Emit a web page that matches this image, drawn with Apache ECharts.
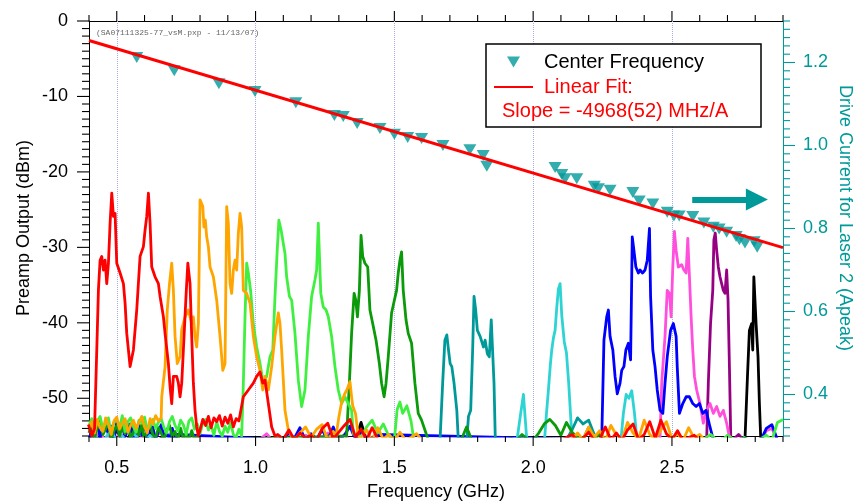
<!DOCTYPE html>
<html><head><meta charset="utf-8">
<script src="https://cdn.jsdelivr.net/npm/echarts@6/dist/echarts.min.js"></script>
<style>html,body{margin:0;padding:0;background:#fff}#c{width:860px;height:504px}</style>
</head><body><div id="c"></div>
<script>
// ---------- axis ticks ----------
const xMajorTicks = [0.5, 1.0, 1.5, 2.0, 2.5];
const xMinorTicks = [0.4,0.6,0.7,0.8,0.9,1.1,1.2,1.3,1.4,1.6,1.7,1.8,1.9,2.1,2.2,2.3,2.4,2.6,2.7,2.8,2.9];
const yLeftMajorTicks = [0, -10, -20, -30, -40, -50];
const yLeftMinorTicks = [-1,-2,-3,-4,-5,-6,-7,-8,-9,-11,-12,-13,-14,-15,-16,-17,-18,-19,-21,-22,-23,-24,-25,-26,-27,-28,-29,-31,-32,-33,-34,-35,-36,-37,-38,-39,-41,-42,-43,-44,-45,-46,-47,-48,-49,-51,-52,-53,-54,-55];
const yRightMajorTicks = [0.4, 0.6, 0.8, 1.0, 1.2];
const yRightMinorTicks = [0.3,0.32,0.34,0.36,0.38,0.42,0.44,0.46,0.48,0.5,0.52,0.54,0.56,0.58,0.62,0.64,0.66,0.68,0.7,0.72,0.74,0.76,0.78,0.82,0.84,0.86,0.88,0.9,0.92,0.94,0.96,0.98,1.02,1.04,1.06,1.08,1.1,1.12,1.14,1.16,1.18,1.22,1.24,1.26,1.28,1.3];

// ---------- center frequency vs drive current (right axis) ----------
const centerFreqGHz = [0.572,0.707,0.868,0.998,1.145,1.284,1.316,1.366,1.448,1.500,1.548,1.598,1.675,1.772,1.820,1.833,2.079,2.103,2.115,2.157,2.220,2.235,2.277,2.359,2.382,2.431,2.483,2.507,2.526,2.575,2.615,2.649,2.670,2.697,2.731,2.743,2.763,2.796,2.807];
const driveCurrentA = [1.212,1.180,1.149,1.130,1.103,1.072,1.070,1.053,1.041,1.027,1.019,1.017,1.000,0.990,0.976,0.950,0.947,0.930,0.920,0.920,0.902,0.896,0.892,0.887,0.866,0.859,0.839,0.830,0.830,0.829,0.813,0.803,0.799,0.791,0.781,0.773,0.765,0.768,0.755];
const fitFreqGHz = [0.4, 2.9];
const fitCurrentA = [1.253, 0.754];
const arrowFreqGHz = [2.573, 2.806];
const arrowCurrentA = 0.870;

// ---------- spectra: peak regions [GHz, dBm] ----------
const redPeaks = [[0.398,-53.5],[0.41,-55],[0.42,-54],[0.428,-43.6],[0.434,-35.6],[0.440,-31.7],[0.446,-31.2],[0.452,-33.0],[0.458,-31.7],[0.464,-34.8],[0.470,-32.1],[0.476,-26.8],[0.482,-22.8],[0.488,-25.9],[0.494,-25.5],[0.500,-32.1],[0.512,-33.4],[0.524,-34.8],[0.530,-37.4],[0.536,-41.4],[0.548,-45.8],[0.560,-43.6],[0.572,-38.3],[0.584,-31.2],[0.596,-29.9],[0.602,-27.7],[0.608,-25.9],[0.614,-22.8],[0.620,-26.8],[0.626,-32.6],[0.638,-33.9],[0.650,-34.8],[0.656,-36.5],[0.668,-39.2],[0.674,-41.4],[0.686,-45.4],[0.692,-48.5],[0.698,-50.7],[0.704,-47.1],[0.716,-47.1],[0.722,-48.0],[0.728,-49.8],[0.734,-48.0],[0.740,-43.6],[0.750,-36.1],[0.756,-32.1],[0.764,-34.8],[0.770,-41.8],[0.776,-48.0],[0.782,-51.6],[0.788,-53.8],[0.794,-55],
  [0.956,-49.8],[0.974,-48.9],[0.992,-48.0],[1.004,-47.1],[1.016,-46.5],[1.026,-48.0],[1.034,-47.6],[1.046,-50.7],[1.058,-53.8],[1.070,-55]];
const orangePeaks = [[0.662,-49.8],[0.674,-45.8],[0.682,-38.3],[0.690,-34.8],[0.698,-32.1],[0.704,-35.7],[0.710,-41.8],[0.718,-45.4],[0.728,-44.5],[0.734,-40.9],[0.746,-39.2],[0.758,-38.3],[0.770,-40.1],[0.776,-39.2],[0.782,-41.8],[0.788,-43.2],[0.794,-40.1],[0.800,-23.7],[0.810,-24.6],[0.814,-27.3],[0.819,-26.4],[0.824,-28.6],[0.830,-29.9],[0.836,-32.6],[0.848,-33.9],[0.860,-37.0],[0.872,-41.8],[0.882,-46.3],[0.890,-45.4],[0.896,-24.6],[0.902,-26.8],[0.908,-34.8],[0.914,-36.1],[0.920,-33.0],[0.926,-31.7],[0.932,-33.0],[0.938,-28.1],[0.944,-25.5],[0.950,-27.3],[0.956,-35.7],[0.968,-36.1],[0.980,-37.4],[0.992,-41.8],[1.004,-44.5],[1.016,-46.3],[1.026,-48.9],[1.034,-47.1],[1.046,-48.9],[1.058,-45.8],[1.070,-41.8],[1.082,-38.7],[1.088,-40.1],[1.094,-43.6],[1.106,-51.6],[1.118,-54.2],[1.130,-55],
  [1.29,-55],[1.30,-52.5],[1.31,-50.5],[1.32,-49.5],[1.33,-48.8],[1.34,-47.8],[1.345,-49.5],[1.35,-51.0],[1.36,-52],[1.37,-55]];
const limePeaks = [[0.950,-55],[0.956,-48.0],[0.962,-39.2],[0.968,-32.1],[0.974,-33.4],[0.982,-35.7],[0.992,-40.1],[1.004,-43.2],[1.016,-45.4],[1.028,-48.0],[1.040,-47.1],[1.052,-44.5],[1.062,-43.6],[1.070,-36.5],[1.078,-30.4],[1.084,-26.4],[1.092,-27.7],[1.100,-29.5],[1.106,-30.8],[1.112,-33.9],[1.122,-36.5],[1.130,-37.0],[1.142,-41.4],[1.154,-47.6],[1.166,-51.1],[1.178,-48.9],[1.190,-41.8],[1.202,-36.5],[1.214,-34.3],[1.220,-33.0],[1.226,-26.8],[1.235,-36.1],[1.244,-37.9],[1.254,-38.3],[1.262,-39.2],[1.274,-41.8],[1.286,-45.8],[1.298,-48.9],[1.310,-50.7],[1.322,-49.8],[1.334,-50.7],[1.346,-51.6],[1.352,-54.7],[1.364,-55],
  [1.50,-55.5],[1.51,-51.5],[1.52,-50.5],[1.53,-52],[1.545,-51],[1.56,-53],[1.57,-55.5]];
const darkGreenPeaks = [[1.328,-55],[1.338,-48.0],[1.346,-41.4],[1.355,-36.1],[1.361,-37.0],[1.367,-39.2],[1.374,-35.7],[1.380,-28.4],[1.386,-31.2],[1.394,-32.1],[1.404,-32.6],[1.412,-38.3],[1.422,-40.1],[1.434,-42.3],[1.446,-45.4],[1.454,-48.0],[1.463,-49.8],[1.470,-48.0],[1.478,-44.5],[1.490,-38.7],[1.500,-37.0],[1.508,-35.7],[1.514,-33.4],[1.520,-31.7],[1.526,-30.6],[1.532,-35.7],[1.542,-39.6],[1.550,-41.4],[1.562,-42.7],[1.574,-48.0],[1.586,-52.0],[1.598,-52.9],[1.610,-54.2],[1.622,-55.5]];
const tealPeaks = [[1.664,-56],[1.674,-48.0],[1.682,-42.3],[1.689,-41.6],[1.695,-43.6],[1.701,-45.4],[1.707,-45.8],[1.715,-48.0],[1.725,-51.6],[1.731,-56],[1.760,-56],[1.767,-52.4],[1.775,-51.6],[1.782,-43.6],[1.787,-36.5],[1.793,-38.3],[1.799,-41.0],[1.809,-41.8],[1.815,-41.8],[1.821,-43.2],[1.827,-42.3],[1.835,-44.1],[1.842,-44.5],[1.849,-39.6],[1.854,-39.6],[1.859,-48.0],[1.864,-56]];
const cyanPeaks = [[1.94,-56],[1.955,-52],[1.965,-49.5],[1.972,-53],[1.978,-56],
  [2.04,-56],[2.048,-52],[2.055,-48.9],[2.062,-45.5],[2.067,-43.6],[2.073,-42],[2.079,-41.0],[2.085,-38],[2.091,-35.5],[2.097,-34.8],[2.103,-39],[2.112,-42.5],[2.12,-44],[2.128,-48],[2.136,-53],[2.142,-56],
  [2.315,-56],[2.325,-52],[2.335,-49.5],[2.345,-50],[2.355,-49],[2.365,-52],[2.375,-56]];
const bluePeaks = [[2.247,-55.5],[2.255,-42.3],[2.265,-39.2],[2.271,-38.3],[2.277,-41.8],[2.287,-43.6],[2.295,-47.1],[2.303,-49.4],[2.313,-48.0],[2.319,-46.3],[2.327,-45.8],[2.334,-43.6],[2.343,-42.7],[2.351,-44.9],[2.357,-28.6],[2.363,-30.4],[2.370,-32.6],[2.379,-33.4],[2.385,-33.0],[2.394,-33.4],[2.403,-33.0],[2.411,-31.7],[2.419,-27.5],[2.423,-36.5],[2.431,-43.6],[2.439,-45.8],[2.447,-48.9],[2.457,-51.6],[2.467,-52.0],[2.475,-48.0],[2.483,-44.5],[2.495,-41.0],[2.505,-40.1],[2.515,-41.8],[2.519,-45.8],[2.527,-52.0],[2.539,-50.7],[2.551,-49.8],[2.563,-49.8],[2.575,-50.7],[2.587,-51.1],[2.599,-50.7],[2.611,-52.0],[2.623,-51.6],[2.637,-53.8],[2.649,-55.5]];
const magentaPeaks = [[2.457,-55.5],[2.463,-48.0],[2.475,-41.8],[2.483,-35.7],[2.491,-36.1],[2.497,-39.2],[2.503,-32.6],[2.509,-27.9],[2.515,-30.4],[2.523,-32.6],[2.535,-32.3],[2.543,-33.0],[2.551,-33.4],[2.557,-28.8],[2.563,-33.9],[2.569,-39.2],[2.575,-43.6],[2.581,-47.1],[2.589,-48.9],[2.601,-50.7],[2.613,-53.3],[2.625,-51.6],[2.637,-50.7],[2.649,-52.0],[2.661,-51.1],[2.673,-52.4],[2.685,-51.6],[2.697,-53.3],[2.709,-55.5]];
const purplePeaks = [[2.625,-55.5],[2.631,-48.0],[2.639,-40.1],[2.647,-35.7],[2.651,-29.0],[2.656,-28.1],[2.661,-30.4],[2.667,-32.6],[2.673,-33.9],[2.679,-34.8],[2.685,-35.7],[2.691,-36.1],[2.697,-33.0],[2.702,-37.0],[2.707,-45.8],[2.712,-55.5]];
const blackPeaks = [[2.763,-55.5],[2.772,-47.1],[2.779,-41.0],[2.787,-40.1],[2.791,-43.6],[2.795,-33.9],[2.803,-40.1],[2.810,-44.5],[2.815,-50.7],[2.820,-55.5]];

// ---------- noise floor: [start GHz, spacing GHz, values dBm] ----------
const redNoise = [[0.80, 0.01, [-54.2,-52.8,-53.6,-52.4,-53.9,-52.6,-53.1,-52.3,-53.7,-52.5,-53.3,-52.2,-53.8,-52.7,-53.0]],
  [1.08, 0.02, [-54.8,-55.4,-54.2,-55.5,-54.6,-55.3,-54.9,-55.6,-54.0,-53.3,-55.4,-54.5,-53.6,-52.8,-55.2,-54.1,-55.5,-53.9,-55.4]],
  [2.10, 0.02, [-55.6,-55.2,-54.8,-55.6,-55.3,-54.5,-55.6,-55.4,-53.8,-55.5,-54.6,-55.6,-54.2,-53.4,-55.5,-54.8,-53.1,-55.3,-52.9,-54.7,-55.5,-54.3,-55.6,-55.2,-54.9,-55.6,-55.5]]];
const orangeNoise = [[0.40, 0.01, [-54.2,-53.1,-54.6,-52.8,-53.9,-54.4,-52.6,-53.5,-54.8,-53.0,-52.5,-54.1,-53.3,-52.7,-54.5,-53.6,-52.9,-54.0,-53.2,-52.4,-53.8,-54.6,-52.7,-53.4,-52.3,-53.0,-52.6]],
  [1.14, 0.02, [-55.5,-54.6,-53.8,-55.2,-54.1,-53.5,-55.6,-54.4]],
  [1.38, 0.02, [-55.3,-54.2,-55.6,-53.9,-55.4,-54.8,-55.6,-54.5,-55.5,-55.2,-54.7,-55.6]],
  [2.14, 0.02, [-55.4,-54.6,-55.5,-53.8,-55.2,-54.3,-55.6,-53.6,-54.9,-55.5,-53.2,-54.6,-55.4,-52.9,-54.8,-55.5,-54.2,-53.1,-55.4,-54.7,-55.6,-53.9,-55.3,-54.8,-55.6,-55.4]]];
const limeNoise = [[0.40, 0.01, [-53.6,-52.7,-54.3,-53.0,-52.4,-54.1,-53.4,-52.6,-54.7,-53.2,-52.8,-53.9,-52.3,-54.4,-53.1,-52.6,-53.8,-54.5,-52.9,-53.3,-52.5,-54.2,-53.7,-52.8,-54.0,-53.2,-52.7,-53.9,-54.6,-53.1,-52.4,-53.6,-54.3,-52.9,-53.5,-54.8,-53.0,-52.6,-54.1,-53.4,-54.7,-53.3,-52.8,-54.2,-53.6,-54.9,-53.1,-54.4,-55.0,-53.7,-54.5,-53.2,-54.8,-55.2,-54.1]],
  [1.38, 0.02, [-55.2,-53.8,-52.9,-54.6,-53.4,-55.0]],
  [2.60, 0.02, [-55.6,-55.3,-54.8,-55.5,-55.6,-54.9,-55.4,-55.6,-55.2,-55.5,-55.6,-55.4,-54.9,-55.6,-53.2,-52.8]]];
const darkGreenNoise = [[0.40, 0.01, [-54.6,-53.4,-55.3,-53.9,-53.0,-54.8,-54.1,-53.3,-55.5,-54.3,-53.6,-55.0,-53.8,-54.7,-53.2,-55.4,-54.5,-53.7,-54.9,-53.5,-55.6,-54.0,-53.4,-54.8,-55.3,-53.9,-54.6,-55.5,-54.2,-53.6,-55.1,-54.4,-55.6,-54.0,-55.4,-54.7,-55.6,-54.3,-55.5,-55.0,-55.6]],
  [1.64, 0.02, [-55.5,-55.6,-55.4,-55.6,-55.5,-55.6,-53.8,-55.6,-55.5,-55.6,-55.4,-55.6,-55.5,-55.6,-55.3,-55.6,-54.8,-55.4,-55.6,-54.6,-53.4,-52.8,-53.6,-54.9,-53.2,-54.5,-55.2,-55.4,-53.9,-55.5,-54.7,-55.6,-55.3]]];
const tealNoise = [[2.12, 0.02, [-55.5,-54.2,-52.6,-53.4,-52.9,-54.8]]];
const cyanNoise = [[0.40, 0.02, [-55.8,-54.8,-55.9,-55.2,-54.3,-55.7,-55.0,-55.8,-54.6,-55.5,-55.8,-54.9,-55.6,-55.8,-55.3,-55.7]]];
const blueNoise = [[0.40, 0.01, [-55.8,-53.9,-54.6,-53.3,-55.2,-54.0,-53.5,-54.8,-53.7,-55.4,-53.2,-54.5,-53.8,-55.1,-54.2,-53.4,-55.5,-54.7,-53.6,-54.9,-53.3,-55.3,-54.1,-53.8,-55.6,-54.4,-53.5,-55.0,-54.6,-55.4,-54.0,-55.5,-54.8]],
  [1.10, 0.02, [-55.5,-54.6,-55.3,-53.9,-55.6,-54.7,-55.4,-54.2,-55.5,-53.8,-55.6,-54.9,-53.7,-55.5,-54.4,-55.6,-55.2,-54.8]],
  [2.66, 0.02, [-55.6,-55.4,-55.6,-55.5,-55.6,-55.3,-55.6,-55.5,-55.6,-54.0,-53.5,-55.5,-55.6]]];
const magentaNoise = [[0.40, 0.02, [-55.9,-55.2,-54.6,-55.7,-53.8,-55.4,-54.9,-55.8,-54.2,-55.5,-54.8,-55.6,-55.1,-54.4,-55.7,-55.3]],
  [1.00, 0.02, [-55.6,-55.3,-54.7,-55.6,-55.1,-55.6,-54.5,-55.5,-55.6,-54.9,-55.4,-55.6,-55.2,-54.6,-55.6,-55.4,-54.8,-55.6,-55.5,-55.6,-55.3,-55.6,-55.5]],
  [2.74, 0.02, [-55.6,-55.4,-55.6,-55.5,-55.6,-54.3,-54.0,-55.6]]];
const purpleNoise = [[2.72, 0.02, [-55.5,-54.8,-55.6]]];
const blackNoise = [[0.40, 0.02, [-55.6,-54.8,-55.5,-53.5,-55.6,-54.2,-55.7,-55.4,-53.9,-55.6,-55.5,-54.6,-55.7,-55.3,-55.6,-55.5]],
  [1.36, 0.02, [-55.5,-53.2,-55.6]]];

const FONT = '"Liberation Sans", Arial, Helvetica, sans-serif';
const TEAL = '#009999';
const X_MIN = 0.4, X_MAX = 2.9, YL_MIN = -55, YL_MAX = 0, YR_MIN = 0.3, YR_MAX = 1.3;

function buildTrace(peaks, noise) {
  const pts = peaks.map(p => [p[0], p[1]]);
  noise.forEach(seg => seg[2].forEach((v, i) => pts.push([+(seg[0] + i * seg[1]).toFixed(4), v])));
  pts.sort((a, b) => a[0] - b[0]);
  return pts;
}

const traces = [
  ['black', '#000000', blackPeaks, blackNoise],
  ['purple', '#960082', purplePeaks, purpleNoise],
  ['magenta', '#ff4fdc', magentaPeaks, magentaNoise],
  ['blue', '#0000ff', bluePeaks, blueNoise],
  ['cyan', '#2ed3d3', cyanPeaks, cyanNoise],
  ['teal', '#009999', tealPeaks, tealNoise],
  ['darkgreen', '#0a9a0a', darkGreenPeaks, darkGreenNoise],
  ['lime', '#40f040', limePeaks, limeNoise],
  ['orange', '#ffa500', orangePeaks, orangeNoise],
  ['red', '#ff0000', redPeaks, redNoise]
];

const series = traces.map(t => ({
  type: 'line', name: t[0], xAxisIndex: 0, yAxisIndex: 0,
  data: buildTrace(t[2], t[3]), symbol: 'none', showSymbol: false,
  lineStyle: { color: t[1], width: 2.8, join: 'round' }, itemStyle: { color: t[1] },
  clip: true, silent: true, z: 2
}));

series.unshift({
  type: 'line', name: 'grid', xAxisIndex: 0, yAxisIndex: 0, data: [], silent: true,
  markLine: {
    silent: true, z: 1, symbol: ['none', 'none'], label: { show: false },
    lineStyle: { type: 'dotted', color: '#aaaaee', width: 1 },
    emphasis: { disabled: true },
    data: xMajorTicks.map(v => ({ xAxis: v }))
  }
});

// tick marks drawn as thin rectangle symbols at the tick values (through the axes' scales)
function tickMarks(values, side, len, color) {
  const vertical = side === 'bottom' || side === 'top';
  const data = values.map(v => side === 'bottom' ? [v, YL_MIN] : side === 'top' ? [v, YL_MAX] :
    side === 'left' ? [X_MIN, v] : [X_MAX, v]);
  const off = side === 'bottom' ? [0, len / 2] : side === 'top' ? [0, -len / 2] :
    side === 'left' ? [-len / 2, 0] : [len / 2, 0];
  return {
    type: 'scatter', name: 'ticks-' + side + len, xAxisIndex: 0, yAxisIndex: side === 'right' ? 1 : 0,
    data: data, symbol: 'rect', symbolSize: vertical ? [1.1, len] : [len, 1.1], symbolOffset: off,
    itemStyle: { color: color, opacity: 1 }, clip: false, silent: true, z: 4,
    emphasis: { disabled: true }, animation: false
  };
}
series.push(tickMarks(xMinorTicks, 'bottom', 6, '#000'));
series.push(tickMarks(xMajorTicks, 'bottom', 10, '#000'));
series.push(tickMarks(xMinorTicks, 'top', 6, '#000'));
series.push(tickMarks(xMajorTicks, 'top', 10, '#000'));
series.push(tickMarks(yLeftMinorTicks, 'left', 7, '#000'));
series.push(tickMarks(yLeftMajorTicks, 'left', 12, '#000'));
series.push(tickMarks(yRightMinorTicks, 'right', 7, TEAL));
series.push(tickMarks(yRightMajorTicks, 'right', 12, TEAL));

series.push({
  type: 'scatter', name: 'Center Frequency', xAxisIndex: 0, yAxisIndex: 1,
  data: centerFreqGHz.map((f, i) => [f, driveCurrentA[i]]),
  symbol: 'triangle', symbolRotate: 180, symbolSize: [13, 11],
  itemStyle: { color: TEAL }, z: 5, silent: true,
  markLine: {
    silent: true, symbol: ['none', 'triangle'], symbolSize: [22, 22], label: { show: false },
    lineStyle: { type: 'solid', color: TEAL, width: 6 },
    itemStyle: { color: TEAL },
    emphasis: { disabled: true },
    data: [[{ coord: [arrowFreqGHz[0], arrowCurrentA] }, { coord: [arrowFreqGHz[1], arrowCurrentA] }]]
  }
});
series.push({
  type: 'line', name: 'Linear Fit:', xAxisIndex: 0, yAxisIndex: 1,
  data: fitFreqGHz.map((f, i) => [f, fitCurrentA[i]]),
  symbol: 'none', lineStyle: { color: '#ff0000', width: 3 }, itemStyle: { color: '#ff0000' },
  z: 6, silent: true
});

const option = {
  animation: false,
  grid: { left: 89, right: 77, top: 21, bottom: 68, containLabel: false },
  xAxis: [
    { type: 'value', min: X_MIN, max: X_MAX, position: 'bottom',
      axisLine: { show: true, onZero: false, lineStyle: { color: '#000', width: 1 } },
      axisTick: { show: false },
      axisLabel: { show: true, customValues: xMajorTicks, formatter: v => v.toFixed(1), fontSize: 18, fontFamily: FONT, color: '#000', margin: 23 },
      splitLine: { show: false } },
    { type: 'value', min: X_MIN, max: X_MAX, position: 'top',
      axisLine: { show: true, onZero: false, lineStyle: { color: '#000', width: 1 } },
      axisTick: { show: false }, axisLabel: { show: false }, splitLine: { show: false } }
  ],
  yAxis: [
    { type: 'value', min: YL_MIN, max: YL_MAX, position: 'left',
      axisLine: { show: true, onZero: false, lineStyle: { color: '#000', width: 1 } },
      axisTick: { show: false },
      axisLabel: { show: true, customValues: yLeftMajorTicks, formatter: v => String(v), fontSize: 18, fontFamily: FONT, color: '#000', margin: 21 },
      splitLine: { show: false } },
    { type: 'value', min: YR_MIN, max: YR_MAX, position: 'right',
      axisLine: { show: true, onZero: false, lineStyle: { color: TEAL, width: 1 } },
      axisTick: { show: false },
      axisLabel: { show: true, customValues: yRightMajorTicks, formatter: v => v.toFixed(1), fontSize: 18, fontFamily: FONT, color: TEAL, margin: 20 },
      splitLine: { show: false } }
  ],
  legend: {
    data: [
      { name: 'Center Frequency', icon: 'path://M0,0M39,11M13,0L26,0L19.5,11Z', textStyle: { color: '#000' } },
      { name: 'Linear Fit:', itemStyle: { opacity: 0 }, textStyle: { color: '#ff0000' } }
    ],
    left: 493, top: 51, padding: 0, orient: 'vertical', itemWidth: 39, itemHeight: 11, itemGap: 3,
    textStyle: { fontSize: 20, fontFamily: FONT, lineHeight: 22, padding: [0, 0, 0, 6] },
    selectedMode: false, z: 6
  },
  graphic: [
    { type: 'rect', z: 4, shape: { x: 486, y: 44, width: 275, height: 83 },
      style: { fill: '#ffffff', stroke: '#000', lineWidth: 1.5 } },
    { type: 'text', z: 7, x: 502, y: 111,
      style: { text: 'Slope = -4968(52) MHz/A', fill: '#ff0000', font: '20px ' + FONT, verticalAlign: 'middle', textVerticalAlign: 'middle' } },
    { type: 'text', z: 7, x: 96, y: 33,
      style: { text: '(SA07111325-77_vsM.pxp - 11/13/07)', fill: '#666', font: '8px "Liberation Mono", "DejaVu Sans Mono", monospace', verticalAlign: 'middle', textVerticalAlign: 'middle' } },
    { type: 'text', z: 7, x: 24, y: 228, rotation: Math.PI / 2,
      style: { text: 'Preamp Output (dBm)', fill: '#000', font: '18px ' + FONT, align: 'center', verticalAlign: 'middle', textAlign: 'center', textVerticalAlign: 'middle' } },
    { type: 'text', z: 7, x: 845, y: 218, rotation: -Math.PI / 2,
      style: { text: 'Drive Current for Laser 2 (Apeak)', fill: TEAL, font: '18px ' + FONT, align: 'center', verticalAlign: 'middle', textAlign: 'center', textVerticalAlign: 'middle' } },
    { type: 'text', z: 7, x: 436, y: 492,
      style: { text: 'Frequency (GHz)', fill: '#000', font: '18px ' + FONT, align: 'center', verticalAlign: 'middle', textAlign: 'center', textVerticalAlign: 'middle' } }
  ],
  series: series
};

const chart = echarts.init(document.getElementById('c'), null, { renderer: 'canvas', width: 860, height: 504 });
chart.setOption(option);
</script>
</body></html>
